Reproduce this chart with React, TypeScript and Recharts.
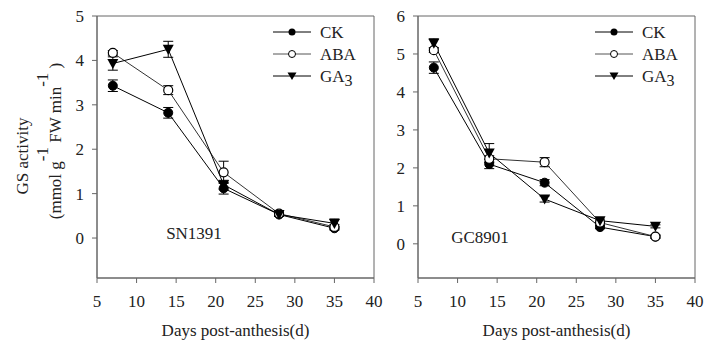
import { LineChart, Line, XAxis, YAxis, ErrorBar, ReferenceArea, Legend } from 'recharts';

const days = [7, 14, 21, 28, 35];
const xTicks = [5, 10, 15, 20, 25, 30, 35, 40];

// SN1391
const snCK = [3.43, 2.82, 1.12, 0.53, 0.22];
const snCKErr = [0.13, 0.12, 0.13, 0.04, 0.04];
const snABA = [4.17, 3.33, 1.48, 0.55, 0.25];
const snABAErr = [0.05, 0.1, 0.25, 0.04, 0.05];
const snGA = [3.93, 4.25, 1.2, 0.53, 0.33];
const snGAErr = [0.15, 0.18, 0.1, 0.04, 0.1];
const snTicks = [0, 1, 2, 3, 4, 5];

// GC8901
const gcCK = [4.64, 2.1, 1.61, 0.44, 0.19];
const gcCKErr = [0.15, 0.12, 0.08, 0.04, 0.04];
const gcABA = [5.1, 2.24, 2.15, 0.56, 0.19];
const gcABAErr = [0.06, 0.08, 0.12, 0.04, 0.04];
const gcGA = [5.28, 2.39, 1.18, 0.61, 0.46];
const gcGAErr = [0.12, 0.25, 0.08, 0.04, 0.04];
const gcTicks = [0, 1, 2, 3, 4, 5, 6];

const FONT = 'Liberation Serif';
const FS = 17;
const TXT = '#222';
const AXIS = '#666';

function buildRows(ck: number[], ckE: number[], aba: number[], abaE: number[], ga: number[], gaE: number[]) {
  return days.map((d, i) => ({
    day: d,
    ck: ck[i], ckErr: ckE[i],
    aba: aba[i], abaErr: abaE[i],
    ga: ga[i], gaErr: gaE[i],
  }));
}

const snData = buildRows(snCK, snCKErr, snABA, snABAErr, snGA, snGAErr);
const gcData = buildRows(gcCK, gcCKErr, gcABA, gcABAErr, gcGA, gcGAErr);

const filledDot = (p: any) => (
  <circle key={`c-${p.index}`} cx={p.cx} cy={p.cy} r={4.5} fill="#000" stroke="#000" />
);
const openDot = (p: any) => (
  <circle key={`o-${p.index}`} cx={p.cx} cy={p.cy} r={4.5} fill="#fff" stroke="#000" strokeWidth={1.2} />
);
const triDot = (p: any) => (
  <path key={`t-${p.index}`} d={`M${p.cx - 5.5},${p.cy - 4.5}L${p.cx + 5.5},${p.cy - 4.5}L${p.cx},${p.cy + 5.5}Z`} fill="#000" />
);

const renderLegend = () => (
  <svg width={100} height={70}>
    <g fontFamily={FONT} fontSize={FS} fill={TXT}>
      <line x1={1} x2={39} y1={10} y2={10} stroke="#000" />
      <circle cx={20} cy={10} r={3.5} fill="#000" />
      <text x={48} y={16}>CK</text>
      <line x1={1} x2={39} y1={32} y2={32} stroke="#555" />
      <circle cx={20} cy={32} r={3.5} fill="#fff" stroke="#000" />
      <text x={48} y={38}>ABA</text>
      <line x1={1} x2={39} y1={54} y2={54} stroke="#000" />
      <path d="M15.5,50.5L24.5,50.5L20,58Z" fill="#000" />
      <text x={48} y={60}>GA<tspan dy={4} fontSize={16}>3</tspan></text>
    </g>
  </svg>
);

interface PanelProps {
  data: any[];
  yMax: number;
  yTicks: number[];
  width: number;
  margin: { top: number; right: number; bottom: number; left: number };
  name: string;
  nameX: number;
  nameY: number;
  legendLeft: number;
  showYLabel?: boolean;
}

function Panel({ data, yMax, yTicks, width, margin, name, nameX, nameY, legendLeft, showYLabel }: PanelProps) {
  const plotCenter = margin.left + 40 + (width - margin.left - 40 - margin.right) / 2;
  const tickStyle = { fill: TXT, fontSize: FS, fontFamily: FONT };
  return (
    <LineChart width={width} height={340} data={data} margin={margin}>
      <ReferenceArea x1={5} x2={40} y1={-0.9} y2={yMax} fill="none" stroke={AXIS} strokeWidth={1} />
      <XAxis
        dataKey="day"
        type="number"
        domain={[5, 40]}
        ticks={xTicks}
        interval={0}
        stroke={AXIS}
        tickSize={5}
        tickMargin={12}
        height={40}
        tick={tickStyle}
      />
      <YAxis
        type="number"
        domain={[-0.9, yMax]}
        ticks={yTicks}
        interval={0}
        stroke={AXIS}
        tickSize={5}
        tickMargin={8}
        width={40}
        tick={tickStyle}
      />
      <Legend
        layout="vertical"
        align="center"
        verticalAlign="middle"
        content={renderLegend}
        wrapperStyle={{ top: 22, left: legendLeft, width: 100 }}
      />
      <Line dataKey="ck" stroke="#000" strokeWidth={1} dot={filledDot} isAnimationActive={false}>
        <ErrorBar dataKey="ckErr" width={5} stroke="#000" strokeWidth={1} direction="y" />
      </Line>
      <Line dataKey="aba" stroke="#333" strokeWidth={1} dot={openDot} isAnimationActive={false}>
        <ErrorBar dataKey="abaErr" width={5} stroke="#000" strokeWidth={1} direction="y" />
      </Line>
      <Line dataKey="ga" stroke="#000" strokeWidth={1} dot={triDot} isAnimationActive={false}>
        <ErrorBar dataKey="gaErr" width={5} stroke="#000" strokeWidth={1} direction="y" />
      </Line>
      <g fontFamily={FONT} fontSize={FS} fill={TXT}>
        <text x={nameX} y={nameY} textAnchor="middle">{name}</text>
        <text x={plotCenter} y={336} textAnchor="middle">Days post-anthesis(d)</text>
        {showYLabel && (
          <>
            <text transform="rotate(-90)" x={-156} y={28} textAnchor="middle">GS activity</text>
            <text transform="rotate(-90)" x={-141} y={61} textAnchor="middle">
              (mmol g<tspan dy={-13}>-1</tspan><tspan dy={13}> FW min</tspan><tspan dy={-13}>-1</tspan><tspan dy={13}> )</tspan>
            </text>
          </>
        )}
      </g>
    </LineChart>
  );
}

export default function App() {
  return (
    <div style={{ position: 'fixed', left: 0, top: 0, width: 717, height: 340, background: '#fff' }}>
      <div style={{ position: 'absolute', left: 0, top: 0 }}>
        <Panel
          data={snData}
          yMax={5}
          yTicks={snTicks}
          width={392}
          margin={{ top: 16, right: 18, bottom: 22, left: 57 }}
          name="SN1391"
          nameX={194}
          nameY={239}
          legendLeft={272}
          showYLabel
        />
      </div>
      <div style={{ position: 'absolute', left: 360, top: 0 }}>
        <Panel
          data={gcData}
          yMax={6}
          yTicks={gcTicks}
          width={357}
          margin={{ top: 16, right: 22, bottom: 22, left: 18 }}
          name="GC8901"
          nameX={120}
          nameY={243}
          legendLeft={234}
        />
      </div>
    </div>
  );
}
